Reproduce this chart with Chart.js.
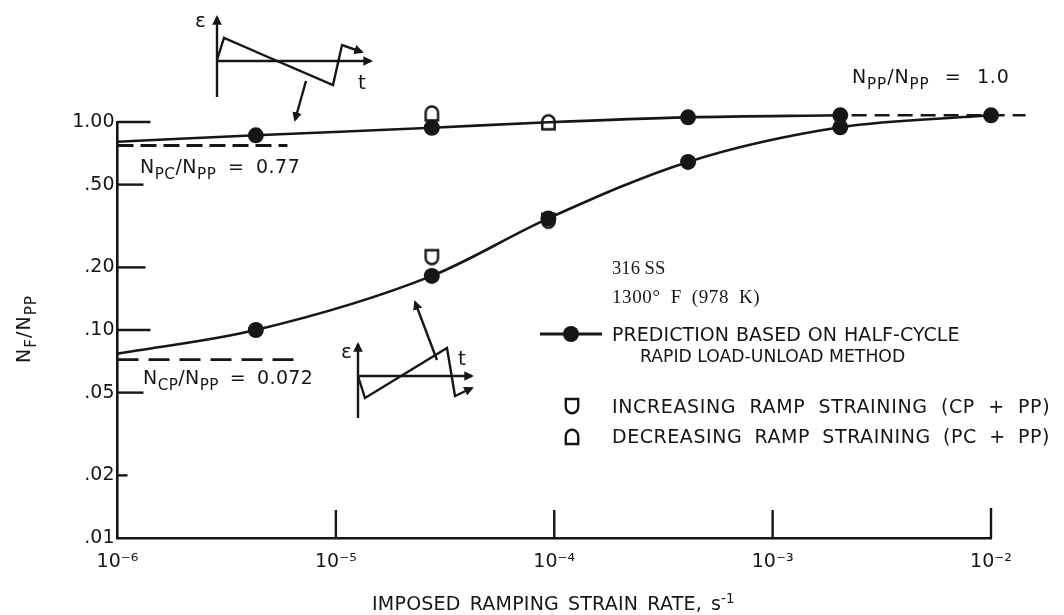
<!DOCTYPE html>
<html>
<head>
<meta charset="utf-8">
<script src="https://cdn.jsdelivr.net/npm/chart.js@4.4.1/dist/chart.umd.min.js"></script>
<style>
  html, body { margin: 0; padding: 0; background: #fff; }
  #wrap { position: relative; width: 1064px; height: 615px; overflow: hidden;
          font-family: "DejaVu Sans", sans-serif; color: #161616; }
  #chart, #ink { position: absolute; left: 0; top: 0; }
  .note { position: absolute; white-space: nowrap; font-size: 19px; line-height: 1; }
  .note sub { font-size: 80%; vertical-align: -0.4em; line-height: 0; }
  .note sup { font-size: 70%; vertical-align: 0.55em; line-height: 0; }
  .small { font-family: "Liberation Serif", serif; font-size: 19px; }
  #ytitle { transform: translate(-50%, -50%) rotate(-90deg); }
</style>
</head>
<body>
<div id="wrap">
  <canvas id="chart" width="1064" height="615"></canvas>
  <svg id="ink" width="1064" height="615">
    <defs>
      <marker id="head" viewBox="0 0 10 10" refX="8" refY="5" markerWidth="4" markerHeight="4" orient="auto">
        <path d="M0,0 L10,5 L0,10 z" fill="#161616"/>
      </marker>
    </defs>
    <g stroke="#161616" stroke-width="2.4" fill="none">
      <!-- upper sketch: PC + PP wave -->
      <line x1="217" y1="97" x2="217" y2="17" marker-end="url(#head)"/>
      <line x1="217" y1="61" x2="371" y2="61" marker-end="url(#head)"/>
      <polyline points="217,60 224,38 333,85 342,45 362,52" marker-end="url(#head)"/>
      <line x1="306" y1="81" x2="295" y2="120" marker-end="url(#head)"/>
      <!-- lower sketch: CP + PP wave -->
      <line x1="358" y1="418" x2="358" y2="344" marker-end="url(#head)"/>
      <line x1="358" y1="376" x2="472" y2="376" marker-end="url(#head)"/>
      <polyline points="358,376 365,398 447,348 455,396 472,388" marker-end="url(#head)"/>
      <line x1="437" y1="360" x2="415" y2="302" marker-end="url(#head)"/>
      <!-- legend symbols -->
      <line x1="540" y1="334" x2="602" y2="334" stroke-width="3"/>
      <path d="M565.8,399 L578.2,399 L578.2,407 A6.2,6.2 0 0 1 565.8,407 Z" fill="#fff"/>
      <path d="M565.8,444 L578.2,444 L578.2,436 A6.2,6.2 0 0 0 565.8,436 Z" fill="#fff"/>
    </g>
    <circle cx="571" cy="334" r="8" fill="#161616"/>
    <text x="195" y="27" font-size="20" fill="#161616">ε</text>
    <text x="358" y="89" font-size="20" fill="#161616">t</text>
    <text x="341" y="358" font-size="20" fill="#161616">ε</text>
    <text x="458" y="365" font-size="20" fill="#161616">t</text>
  </svg>

  <div class="note" id="ytitle" data-w="68" style="left:23px; top:329px;">N<sub>F</sub>/N<sub>PP</sub></div>
  <div class="note" data-w="158" style="left:852px; top:67px;">N<sub>PP</sub>/N<sub>PP</sub> = 1.0</div>
  <div class="note" data-w="160" style="left:140px; top:157px;">N<sub>PC</sub>/N<sub>PP</sub> = 0.77</div>
  <div class="note" data-w="170" style="left:143px; top:368px;">N<sub>CP</sub>/N<sub>PP</sub> = 0.072</div>

  <div class="note small" data-w="53" style="left:612px; top:259px;">316 SS</div>
  <div class="note small" data-w="148" style="left:612px; top:287px;">1300° F (978 K)</div>
  <div class="note" data-w="348" style="left:612px; top:325px;">PREDICTION BASED ON HALF-CYCLE</div>
  <div class="note" data-w="265" style="left:640px; top:348px;">RAPID LOAD-UNLOAD METHOD</div>
  <div class="note" data-w="438" style="left:612px; top:397px;">INCREASING RAMP STRAINING (CP + PP)</div>
  <div class="note" data-w="438" style="left:612px; top:427px;">DECREASING RAMP STRAINING (PC + PP)</div>
  <div class="note" data-w="363" style="left:372px; top:594px;">IMPOSED RAMPING STRAIN RATE, s<sup>-1</sup></div>
</div>

<script>
// strain rate axis, s^-1
const rateTicks = [1e-6, 1e-5, 1e-4, 1e-3, 1e-2];
const rateTickLabels = ['10⁻⁶', '10⁻⁵', '10⁻⁴', '10⁻³', '10⁻²'];
// Nf/Npp axis
const nfTicks = [0.01, 0.02, 0.05, 0.1, 0.2, 0.5, 1.0];
const nfTickLabels = ['.01', '.02', '.05', '.10', '.20', '.50', '1.00'];

// prediction curve for increasing ramp (CP + PP)
const cpRates = [1e-6, 4.3e-6, 2.75e-5, 9.4e-5, 4.1e-4, 2.04e-3, 1e-2];
const cpPrediction = [0.077, 0.100, 0.182, 0.344, 0.643, 0.943, 1.077];
const cpMarked = [false, true, true, true, true, true, true];

// prediction curve for decreasing ramp (PC + PP)
const pcRates = [1e-6, 4.3e-6, 2.75e-5, 9.4e-5, 4.1e-4, 2.04e-3];
const pcPrediction = [0.804, 0.863, 0.938, 0.997, 1.053, 1.077];
const pcMarked = [false, true, true, false, true, true];

// measured points
const increasingRates = [2.75e-5, 9.4e-5];
const increasingNf = [0.224, 0.335];
const decreasingRates = [2.75e-5, 9.4e-5];
const decreasingNf = [1.10, 0.997];

// limiting ratios (dashed)
const pcLimitRates = [1e-6, 6.0e-6];
const pcLimit = 0.77;
const cpLimitRates = [1e-6, 6.9e-6];
const cpLimit = 0.072;
const ppLimitRates = [2.3e-3, 1.44e-2];
const ppLimit = 1.077;

const ink = '#161616';
const fontFamily = '"DejaVu Sans", sans-serif';

function pairs(xs, ys) {
  return xs.map((x, i) => ({ x: x, y: Array.isArray(ys) ? ys[i] : ys }));
}

// fit the lettering to the widths measured on the original:
// too wide -> smaller type, too narrow -> spread words and letters
document.querySelectorAll('[data-w]').forEach(el => {
  const target = +el.dataset.w;
  const extra = target - el.offsetWidth;
  if (extra < 0) {
    const size = parseFloat(getComputedStyle(el).fontSize);
    el.style.fontSize = (size * target / el.offsetWidth) + 'px';
    return;
  }
  const text = el.textContent;
  const spaces = (text.match(/ /g) || []).length;
  const wordShare = spaces ? 0.6 : 0;
  if (spaces) el.style.wordSpacing = (extra * wordShare / spaces) + 'px';
  el.style.letterSpacing = (extra * (1 - wordShare) / text.length) + 'px';
});

// open markers: flat top / round bottom (increasing) and the reverse (decreasing)
function cupMarker(flatTop) {
  const c = document.createElement('canvas');
  const w = 17, h = 19, r = 6.2, cx = w / 2;
  c.width = w; c.height = h;
  const g = c.getContext('2d');
  g.lineWidth = 2.4; g.strokeStyle = ink; g.fillStyle = '#fff';
  g.beginPath();
  if (flatTop) {
    g.moveTo(cx - r, 2.5); g.lineTo(cx + r, 2.5); g.lineTo(cx + r, h - 2.5 - r);
    g.arc(cx, h - 2.5 - r, r, 0, Math.PI);
  } else {
    g.moveTo(cx - r, h - 2.5); g.lineTo(cx + r, h - 2.5); g.lineTo(cx + r, 2.5 + r);
    g.arc(cx, 2.5 + r, r, 0, Math.PI, true);
  }
  g.closePath(); g.fill(); g.stroke();
  return c;
}

const inwardTicks = {
  id: 'inwardTicks',
  beforeDatasetsDraw(chart, args, opts) {
    const { ctx, chartArea, scales: { x, y } } = chart;
    ctx.save();
    ctx.strokeStyle = ink;
    ctx.lineWidth = opts.width;
    y.ticks.forEach((t, i) => {
      const len = opts.yLengths[i];
      if (!len) return;
      const py = y.getPixelForValue(t.value);
      ctx.beginPath(); ctx.moveTo(chartArea.left, py); ctx.lineTo(chartArea.left + len, py); ctx.stroke();
    });
    x.ticks.forEach((t, i) => {
      const len = opts.xLengths[i];
      if (!len) return;
      const px = x.getPixelForValue(t.value);
      ctx.beginPath(); ctx.moveTo(px, chartArea.bottom); ctx.lineTo(px, chartArea.bottom - len); ctx.stroke();
    });
    ctx.restore();
  }
};

const curve = {
  borderColor: ink, borderWidth: 2.6, cubicInterpolationMode: 'monotone',
  backgroundColor: ink, pointBorderWidth: 0, clip: false
};

new Chart(document.getElementById('chart'), {
  type: 'line',
  data: {
    datasets: [
      { ...curve, data: pairs(cpRates, cpPrediction), order: 3,
        pointRadius: c => cpMarked[c.dataIndex] ? 8 : 0 },
      { ...curve, data: pairs(pcRates, pcPrediction), order: 3,
        pointRadius: c => pcMarked[c.dataIndex] ? 8 : 0 },
      { data: pairs(increasingRates, increasingNf), showLine: false, order: 4, clip: false,
        pointStyle: cupMarker(true), pointRadius: 8 },
      { data: pairs(decreasingRates, decreasingNf), showLine: false, order: 4, clip: false,
        pointStyle: cupMarker(false), pointRadius: 8 },
      { data: pairs(pcLimitRates, pcLimit), borderColor: ink, borderWidth: 3, borderDash: [16, 7],
        pointRadius: 0, order: 6, clip: false },
      { data: pairs(cpLimitRates, cpLimit), borderColor: ink, borderWidth: 2.6, borderDash: [21, 10],
        pointRadius: 0, order: 6, clip: false },
      { data: pairs(ppLimitRates, ppLimit), borderColor: ink, borderWidth: 2.6, borderDash: [15, 8],
        pointRadius: 0, order: 6, clip: false }
    ]
  },
  options: {
    responsive: false,
    animation: false,
    events: [],
    layout: { padding: { top: 122, right: 73, left: 0, bottom: 0 } },
    plugins: {
      legend: { display: false },
      tooltip: { enabled: false },
      inwardTicks: { width: 2.4, yLengths: [0, 10, 26, 33, 28, 26, 33], xLengths: [0, 28, 28, 28, 30] }
    },
    scales: {
      x: {
        type: 'logarithmic', min: 1e-6, max: 1e-2,
        afterBuildTicks: s => { s.ticks = rateTicks.map(v => ({ value: v })); },
        afterFit: s => { s.height = 77; },
        grid: { display: false, drawTicks: false },
        border: { display: true, color: ink, width: 2.6 },
        ticks: { autoSkip: false, maxRotation: 0, padding: 13, color: ink,
                 font: { family: fontFamily, size: 19 },
                 callback: (v, i) => rateTickLabels[i] }
      },
      y: {
        type: 'logarithmic', min: 0.01, max: 1.0,
        afterBuildTicks: s => { s.ticks = nfTicks.map(v => ({ value: v })); },
        afterFit: s => { s.width = 117.5; },
        grid: { display: false, drawTicks: false },
        border: { display: true, color: ink, width: 2.6 },
        ticks: { autoSkip: false, padding: 3, color: ink,
                 font: { family: fontFamily, size: 19 },
                 callback: (v, i) => nfTickLabels[i] }
      }
    }
  },
  plugins: [inwardTicks]
});
</script>
</body>
</html>
